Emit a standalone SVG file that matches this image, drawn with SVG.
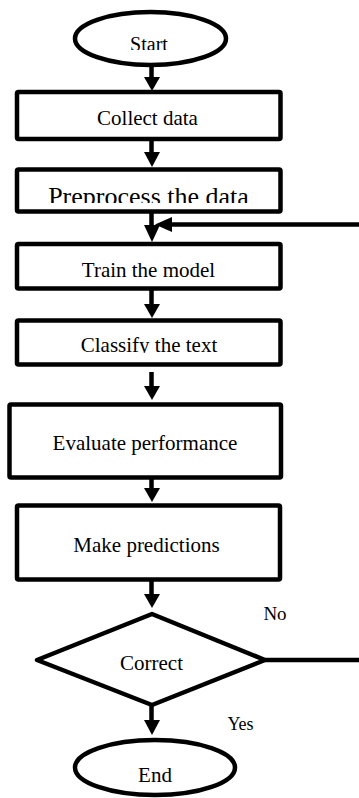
<svg xmlns="http://www.w3.org/2000/svg" width="359" height="798" viewBox="0 0 359 798">
<style>
.s{fill:#fff;stroke:#000;stroke-width:4.5;stroke-linejoin:round}
.t{font-family:'Liberation Serif','DejaVu Serif',serif;font-size:21px;fill:#000;text-anchor:middle}
.c{stroke:#000;stroke-width:4.5;fill:none}
.h{fill:#000}
</style>
<defs>
<clipPath id="cStart"><rect x="0" y="0" width="359" height="50"/></clipPath>
<clipPath id="cPre"><rect x="0" y="0" width="359" height="203"/></clipPath>
<clipPath id="cCls"><rect x="0" y="0" width="359" height="353"/></clipPath>
<clipPath id="cEnd"><rect x="0" y="0" width="359" height="782"/></clipPath>
</defs>
<rect width="359" height="798" fill="#fff"/>
<g id="connectors">
<line class="c" x1="151.5" y1="64" x2="151.5" y2="80"/><polygon class="h" points="144,77 160,77 152,91"/>
<line class="c" x1="151.5" y1="140" x2="151.5" y2="155"/><polygon class="h" points="144,152 160,152 152,167"/>
<line class="c" x1="151.5" y1="212" x2="151.5" y2="228"/><polygon class="h" points="144,225 160,225 152,242"/>
<line class="c" x1="359" y1="224.5" x2="170" y2="224.5"/><polygon class="h" points="172,217 172,232 155,224.5"/>
<line class="c" x1="151.5" y1="289" x2="151.5" y2="306"/><polygon class="h" points="144,304 160,304 152,318"/>
<line class="c" x1="151.5" y1="372" x2="151.5" y2="388"/><polygon class="h" points="144,386 160,386 152,400"/>
<line class="c" x1="151.5" y1="476" x2="151.5" y2="490"/><polygon class="h" points="144,488 160,488 152,502"/>
<line class="c" x1="151.5" y1="580" x2="151.5" y2="596"/><polygon class="h" points="144,594 160,594 152,608"/>
<line class="c" x1="265" y1="660" x2="359" y2="660"/>
<line class="c" x1="151.5" y1="705" x2="151.5" y2="722"/><polygon class="h" points="144,720 160,720 152,735"/>
</g>
<g id="start">
<ellipse class="s" cx="150.5" cy="38.5" rx="75.5" ry="26.5"/>
<text class="t" x="149" y="51" clip-path="url(#cStart)" style="font-size:20px">Start</text>
</g>
<g id="collect">
<rect class="s" x="17" y="92" width="263.5" height="47" rx="1.5"/>
<text class="t" x="147.5" y="125">Collect data</text>
</g>
<g id="preprocess">
<rect class="s" x="17" y="169.5" width="263.5" height="42" rx="1.5"/>
<text class="t" x="148.5" y="205" clip-path="url(#cPre)" style="font-size:26px">Preprocess the data</text>
</g>
<g id="train">
<rect class="s" x="17" y="244" width="263.5" height="44.5" rx="1.5"/>
<text class="t" x="148.5" y="277">Train the model</text>
</g>
<g id="classify">
<rect class="s" x="17" y="320.5" width="263.5" height="44" rx="1.5"/>
<text class="t" x="149" y="352" clip-path="url(#cCls)">Classify the text</text>
</g>
<g id="evaluate">
<rect class="s" x="9.5" y="404.5" width="271.5" height="73" rx="1.5"/>
<text class="t" x="145" y="450">Evaluate performance</text>
</g>
<g id="predict">
<rect class="s" x="17" y="505.5" width="263" height="74" rx="1.5"/>
<text class="t" x="146.5" y="552">Make predictions</text>
</g>
<g id="decision">
<polygon class="s" points="152,614 265,660 152,705 37,660"/>
<text class="t" x="151.5" y="670">Correct</text>
</g>
<g id="labels">
<text class="t" x="275" y="620" style="font-size:19px">No</text>
<text class="t" x="240.5" y="730" style="font-size:18px">Yes</text>
</g>
<g id="end">
<ellipse class="s" cx="155" cy="767.5" rx="80" ry="27.5"/>
<text class="t" x="155" y="782" clip-path="url(#cEnd)">End</text>
</g>
</svg>
